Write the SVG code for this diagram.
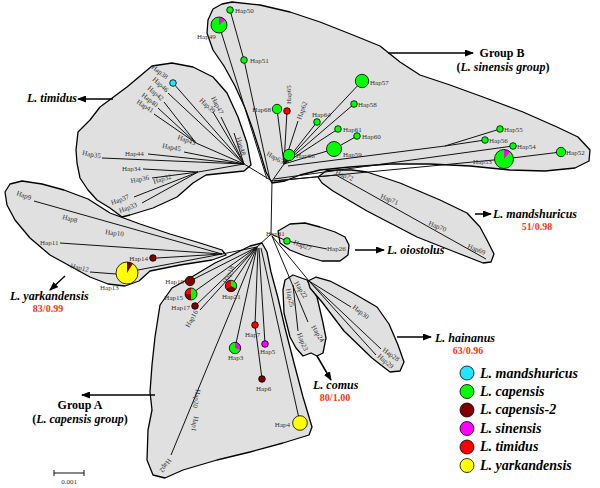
<svg xmlns="http://www.w3.org/2000/svg" width="600" height="488" viewBox="0 0 600 488">
<style>
.cloud{fill:#e0e0e0;stroke:#000;stroke-width:1.3;stroke-linejoin:round}
.ln{stroke:#111;stroke-width:1;fill:none}
.lb{font-family:"Liberation Serif",serif;font-size:7px;fill:#333}
.sp{font-family:"Liberation Serif",serif;font-size:12px;font-weight:bold;font-style:italic;fill:#000}
.grp{font-family:"Liberation Serif",serif;font-size:12px;font-weight:bold;fill:#000}
.sup{font-family:"Liberation Serif",serif;font-size:10px;font-weight:bold;fill:#ff3311}
.leg{font-family:"Liberation Serif",serif;font-size:14px;font-weight:bold;font-style:italic;fill:#000}
.arr{stroke:#000;stroke-width:1.5;fill:none;marker-end:url(#ah)}
.nd{stroke:#000;stroke-width:0.8}
.ol{fill:none;stroke:#000;stroke-width:0.8}
.g{fill:#00ff00}.c{fill:#22e5ff}.b{fill:#800000}.m{fill:#ff00ff}.r{fill:#ff0000}.y{fill:#ffff00}
</style>
<defs>
<marker id="ah" markerUnits="userSpaceOnUse" markerWidth="9" markerHeight="7" refX="8" refY="3.5" orient="auto">
<path d="M0,0 L9,3.5 L0,7 Z" fill="#000"/>
</marker>
</defs>

<g id="clusters">
<path class="cloud" d="M272,183 L266,172 L260,152 L253,130 L245,108 L235,86 L224,66 L213,50 L207,33 L208,20 L213,9 L222,4 L232,2 L260,5 L290,12 L320,22 L353,35 L380,46 L400,62 L420,75 L450,85 L483,97 L523,112 L557,127 L578,137 L590,150 L589,161 L575,168 L545,171 L510,170 L470,166 L430,164 L390,164 L350,167 L320,170 L300,175 L285,181 Z"/>
<path class="cloud" d="M152,66 L172,63 L193,67 L213,77 L227,93 L238,117 L247,143 L251,165 L244,171 L225,173 L206,175 L193,183 L177,197 L153,208 L130,215 L122,217 L110,208 L97,200 L88,190 L80,178 L77,163 L76,150 L78,132 L90,120 L100,107 L127,87 Z"/>
<path class="cloud" d="M5,192 L10,184 L22,181 L42,184 L64,190 L88,199 L110,213 L140,224 L170,234 L200,243 L222,250 L226,255 L212,260 L180,265 L150,271 L139,281 L125,286 L108,284 L90,277 L70,266 L50,255 L30,238 L15,220 L7,205 Z"/>
<path class="cloud" d="M230,256 L250,246 L262,243 L267,252 L271,272 L278,298 L285,328 L294,363 L303,397 L312,427 L309,435 L283,443 L250,452 L217,460 L183,470 L165,478 L153,475 L147,460 L148,430 L152,410 L150,392 L152,365 L155,337 L160,305 L172,288 L190,278 L215,263 Z"/>
<path class="cloud" d="M278,231 L290,224 L305,223 L320,227 L335,232 L345,237 L349,245 L348,255 L340,261 L322,261 L305,256 L290,250 L280,243 Z"/>
<path class="cloud" d="M283,290 L285,280 L293,275 L307,280 L317,297 L323,323 L326,338 L323,353 L317,356 L311,353 L303,356 L296,348 L290,337 L284,313 Z"/>
<path class="cloud" d="M308,281 L316,277 L330,281 L353,293 L377,307 L389,324 L398,345 L404,362 L400,371 L390,372 L372,358 L344,331 L322,302 L310,288 Z"/>
<path class="cloud" d="M318,177 L326,171 L337,170 L352,170 L367,172 L400,183 L440,200 L467,213 L480,227 L488,242 L494,254 L491,262 L483,263 L460,254 L417,237 L367,211 L333,191 L322,183 Z"/>
</g>

<g id="connectors">
<path class="ln" d="M272,181 L284,164 M272,181 L244,164 M272,181 L271,234 M271,234 L257,247 M257,247 L222,254 M244,164 L198,172 M244,164 L196,143"/>
<path class="ln" d="M230,10 L244,60 L270,180 M219,25 L267,179"/>
<path class="ln" d="M284,164 L277,109 M284,164 L287,111 M284,164 L298,121 M284,164 L317,122 M284,164 L338,129 M284,164 L354,104 M284,164 L362,81 M284,164 L334,149 L357,136 M284,164 L289,155"/>
<path class="ln" d="M288,166 L445,146 L500,129 M445,146 L485,140 M274,179 L513,146 M274,181 L504,159 L561,152"/>
<path class="ln" d="M272,181 L336,175 L486,259"/>
<path class="ln" d="M244,164 L173,83 M244,164 L168,93 M196,143 L164,102 M196,143 L158,108 M196,143 L154,114 M244,164 L213,112 M244,164 L221,117 M244,164 L234,133 M244,164 L184,152 M244,164 L148,154 M244,164 L102,158"/>
<path class="ln" d="M198,172 L143,169 M198,172 L152,178 M198,172 L134,197 M198,172 L142,203"/>
<path class="ln" d="M222,254 L34,201 M222,254 L60,243 M222,254 L157,258 M222,254 L138,270 M116,274 L90,272"/>
<path class="ln" d="M257,247 L190,281 M257,247 L191,294 M257,247 L195,306 M257,247 L200,310 M257,247 L231,286 M257,247 L235,348 M257,247 L171,455 M258,248 L255,325 L262,379 M259,248 L265,344 M261,248 L300,423"/>
<path class="ln" d="M271,234 L287,241 L327,249 M272,236 L308,322 M293,285 L298,331 M272,236 L309,281 L351,307 M309,281 L381,349 M309,281 L376,355"/>
</g>

<g id="arrows">
<path class="arr" d="M388,53 L473,53"/>
<path class="arr" d="M113,99 L78,99"/>
<path class="arr" d="M475,214 L491,214"/>
<path class="arr" d="M355,250 L384,250"/>
<path class="arr" d="M397,337 L431,337"/>
<path class="arr" d="M317,356 L331,380"/>
<path class="arr" d="M65,276 L50,290"/>
<path class="arr" d="M155,395 L82,395"/>
</g>

<g id="Hap50"><circle class="nd g" cx="230" cy="10" r="3.3"/><text class="lb" x="235" y="13">Hap50</text></g>
<g id="Hap49"><circle class="g" cx="219" cy="25" r="8"/><path class="m" d="M219,25 L219,17 A8,8 0 0 1 225.1,19.9 Z"/><circle class="ol" cx="219" cy="25" r="8"/><text class="lb" x="197" y="39">Hap49</text></g>
<g id="Hap51"><circle class="nd g" cx="244" cy="60" r="3.3"/><text class="lb" x="250" y="63">Hap51</text></g>
<g id="Hap68"><circle class="nd g" cx="277" cy="109" r="4.7"/><text class="lb" x="271" y="112" text-anchor="end">Hap68</text></g>
<g id="Hap65"><circle class="nd r" cx="287" cy="111" r="3.3"/><text class="lb" transform="translate(291,104) rotate(-90)">Hap65</text></g>
<g id="Hap62"><text class="lb" transform="translate(301,120) rotate(-70)">Hap62</text></g>
<g id="Hap64"><circle class="nd g" cx="317" cy="122" r="3.3"/><text class="lb" x="312" y="117">Hap64</text></g>
<g id="Hap61"><circle class="nd g" cx="338" cy="129" r="3.3"/><text class="lb" x="343" y="132">Hap61</text></g>
<g id="Hap60"><circle class="nd g" cx="357" cy="136" r="3.3"/><text class="lb" x="362" y="139">Hap60</text></g>
<g id="Hap59"><circle class="nd g" cx="334" cy="149" r="7.5"/><text class="lb" x="343" y="157">Hap59</text></g>
<g id="Hap58"><circle class="nd g" cx="354" cy="104" r="3.3"/><text class="lb" x="358" y="107">Hap58</text></g>
<g id="Hap57"><circle class="nd g" cx="362" cy="81" r="6.7"/><text class="lb" x="370" y="85">Hap57</text></g>
<g id="Hap66"><circle class="nd g" cx="289" cy="155" r="5.7"/><text class="lb" x="296" y="158">Hap66</text></g>
<g id="Hap63"><text class="lb" transform="translate(266,155) rotate(30)">Hap63</text></g>
<g id="Hap55"><circle class="nd g" cx="500" cy="129" r="3.3"/><text class="lb" x="504" y="132">Hap55</text></g>
<g id="Hap56"><circle class="nd g" cx="485" cy="140" r="3.3"/><text class="lb" x="489" y="143">Hap56</text></g>
<g id="Hap54"><circle class="nd g" cx="513" cy="146" r="3.3"/><text class="lb" x="517" y="149">Hap54</text></g>
<g id="Hap53"><circle class="g" cx="504" cy="159" r="9.5"/><path class="m" d="M504,159 L504,149.5 A9.5,9.5 0 0 1 510.1,151.7 Z"/><circle class="ol" cx="504" cy="159" r="9.5"/><text class="lb" x="473" y="164">Hap53</text></g>
<g id="Hap52"><circle class="nd g" cx="561" cy="152" r="4.7"/><text class="lb" x="566" y="155">Hap52</text></g>

<g id="Hap72"><text class="lb" transform="translate(335,174) rotate(22)">Hap72</text></g>
<g id="Hap71"><text class="lb" transform="translate(380,198) rotate(22)">Hap71</text></g>
<g id="Hap70"><text class="lb" transform="translate(428,225) rotate(22)">Hap70</text></g>
<g id="Hap69"><text class="lb" transform="translate(467,248) rotate(22)">Hap69</text></g>

<g id="Hap38"><circle class="nd c" cx="173" cy="83" r="3.3"/><text class="lb" transform="translate(151,68) rotate(38)">Hap38</text></g>
<g id="Hap46"><text class="lb" transform="translate(152,80) rotate(42)">Hap46</text></g>
<g id="Hap42"><text class="lb" transform="translate(147,89) rotate(40)">Hap42</text></g>
<g id="Hap40"><text class="lb" transform="translate(141,96) rotate(38)">Hap40</text></g>
<g id="Hap41"><text class="lb" transform="translate(136,103) rotate(33)">Hap41</text></g>
<g id="Hap39"><text class="lb" transform="translate(199,101) rotate(42)">Hap39</text></g>
<g id="Hap47"><text class="lb" transform="translate(211,98) rotate(62)">Hap47</text></g>
<g id="Hap48"><text class="lb" transform="translate(236,138) rotate(72)">Hap48</text></g>
<g id="Hap43"><text class="lb" transform="translate(177,139) rotate(20)">Hap43</text></g>
<g id="Hap45"><text class="lb" transform="translate(162,148) rotate(10)">Hap45</text></g>
<g id="Hap44"><text class="lb" x="125" y="156">Hap44</text></g>
<g id="Hap35"><text class="lb" transform="translate(82,155) rotate(10)">Hap35</text></g>
<g id="Hap34"><text class="lb" x="122" y="171">Hap34</text></g>
<g id="Hap36"><text class="lb" transform="translate(131,183) rotate(-10)">Hap36</text></g>
<g id="Hap32"><text class="lb" transform="translate(154,184) rotate(-17)">Hap32</text></g>
<g id="Hap37"><text class="lb" transform="translate(112,205) rotate(-20)">Hap37</text></g>
<g id="Hap33"><text class="lb" transform="translate(120,213) rotate(-20)">Hap33</text></g>

<g id="Hap9"><text class="lb" transform="translate(16,195) rotate(20)">Hap9</text></g>
<g id="Hap8"><text class="lb" transform="translate(62,219) rotate(15)">Hap8</text></g>
<g id="Hap10"><text class="lb" transform="translate(105,234) rotate(8)">Hap10</text></g>
<g id="Hap11"><text class="lb" x="40" y="245">Hap11</text></g>
<g id="Hap14"><circle class="nd b" cx="153" cy="258" r="3.3"/><text class="lb" x="148" y="261" text-anchor="end">Hap14</text></g>
<g id="Hap13"><circle class="y" cx="127" cy="273" r="11"/><path class="b" d="M127,273 L127,262 A11,11 0 0 1 132.8,263.7 Z"/><circle class="ol" cx="127" cy="273" r="11"/><text class="lb" x="100" y="290">Hap13</text></g>
<g id="Hap12"><text class="lb" transform="translate(70,268) rotate(12)">Hap12</text></g>

<g id="Hap19"><circle class="nd b" cx="190" cy="281" r="4.7"/><text class="lb" x="184" y="284" text-anchor="end">Hap19</text></g>
<g id="Hap15"><circle class="g" cx="191" cy="294" r="6"/><path class="r" d="M191,294 L191,288 A6,6 0 0 0 185,294 Z"/><path class="b" d="M191,294 L185,294 A6,6 0 0 0 191,300 Z"/><circle class="ol" cx="191" cy="294" r="6"/><text class="lb" x="183" y="300" text-anchor="end">Hap15</text></g>
<g id="Hap17"><circle class="nd b" cx="195" cy="306" r="3.3"/><text class="lb" x="190" y="310" text-anchor="end">Hap17</text></g>
<g id="Hap16"><text class="lb" transform="translate(189,328) rotate(-60)">Hap16</text></g>
<g id="Hap18"><text class="lb" transform="translate(227,284) rotate(-66)">Hap18</text></g>
<g id="Hap21"><circle class="g" cx="231" cy="286" r="5.7"/><path class="b" d="M231,286 L235.94,288.85 A5.7,5.7 0 0 1 226.06,288.85 Z"/><path class="r" d="M231,286 L226.06,288.85 A5.7,5.7 0 0 1 231,280.3 Z"/><circle class="ol" cx="231" cy="286" r="5.7"/><text class="lb" x="222" y="299">Hap21</text></g>
<g id="Hap3"><circle class="g" cx="235" cy="348" r="5.7"/><path class="m" d="M235,348 L235,342.3 A5.7,5.7 0 0 1 240.36,349.95 Z"/><circle class="ol" cx="235" cy="348" r="5.7"/><text class="lb" x="228" y="360">Hap3</text></g>
<g id="Hap7"><circle class="nd r" cx="255" cy="325" r="3.3"/><text class="lb" x="245" y="337">Hap7</text></g>
<g id="Hap5"><circle class="nd m" cx="265" cy="344" r="3.3"/><text class="lb" x="260" y="354">Hap5</text></g>
<g id="Hap6"><circle class="nd b" cx="262" cy="379" r="3.3"/><text class="lb" x="256" y="391">Hap6</text></g>
<g id="Hap4"><circle class="nd y" cx="300" cy="423" r="7.3"/><text class="lb" x="290" y="427" text-anchor="end">Hap4</text></g>
<g id="Hap20"><text class="lb" transform="translate(196,389) rotate(100)">Hap20</text></g>
<g id="Hap1"><text class="lb" transform="translate(194,416) rotate(100)">Hap1</text></g>
<g id="Hap2"><text class="lb" transform="translate(168,458) rotate(125)">Hap2</text></g>

<g id="Hap31"><text class="lb" x="266" y="236">Hap31</text></g>
<g id="Hap27"><circle class="nd g" cx="287" cy="241" r="3.3"/><text class="lb" transform="translate(293,244) rotate(22)">Hap27</text></g>
<g id="Hap26"><text class="lb" x="327" y="251">Hap26</text></g>
<g id="Hap22"><text class="lb" transform="translate(294,283) rotate(58)">Hap22</text></g>
<g id="Hap25"><text class="lb" transform="translate(286,289) rotate(78)">Hap25</text></g>
<g id="Hap24"><text class="lb" transform="translate(311,327) rotate(58)">Hap24</text></g>
<g id="Hap23"><text class="lb" transform="translate(297,334) rotate(68)">Hap23</text></g>
<g id="Hap30"><text class="lb" transform="translate(352,308) rotate(38)">Hap30</text></g>
<g id="Hap28"><text class="lb" transform="translate(382,351) rotate(35)">Hap28</text></g>
<g id="Hap29"><text class="lb" transform="translate(377,357) rotate(40)">Hap29</text></g>

<g id="titles">
<text class="grp" x="502" y="57" text-anchor="middle">Group B</text>
<text class="grp" x="503" y="71" text-anchor="middle">(<tspan font-style="italic">L. sinensis group</tspan>)</text>
<text class="sp" x="27" y="102">L. timidus</text>
<text class="sp" x="493" y="218">L. mandshuricus</text>
<text class="sup" x="537" y="230" text-anchor="middle">51/0.98</text>
<text class="sp" x="387" y="254">L. oiostolus</text>
<text class="sp" x="435" y="342">L. hainanus</text>
<text class="sup" x="468" y="354" text-anchor="middle">63/0.96</text>
<text class="sp" x="313" y="389">L. comus</text>
<text class="sup" x="335" y="401" text-anchor="middle">80/1.00</text>
<text class="sp" x="10" y="300">L. yarkandensis</text>
<text class="sup" x="48" y="312" text-anchor="middle">83/0.99</text>
<text class="grp" x="80" y="409" text-anchor="middle">Group A</text>
<text class="grp" x="80" y="423" text-anchor="middle">(<tspan font-style="italic">L. capensis group</tspan>)</text>
</g>

<g id="legend">
<circle class="nd c" cx="467" cy="373" r="7"/><text class="leg" x="480" y="378">L. mandshuricus</text>
<circle class="nd g" cx="467" cy="391.5" r="7"/><text class="leg" x="480" y="396">L. capensis</text>
<circle class="nd b" cx="467" cy="410" r="7"/><text class="leg" x="480" y="414">L. capensis-2</text>
<circle class="nd m" cx="467" cy="428.5" r="7"/><text class="leg" x="480" y="433">L. sinensis</text>
<circle class="nd r" cx="467" cy="447" r="7"/><text class="leg" x="480" y="451">L. timidus</text>
<circle class="nd y" cx="467" cy="465.5" r="7"/><text class="leg" x="480" y="470">L. yarkandensis</text>
</g>

<g id="scale">
<path class="ln" d="M54,473 L84,473 M54,470 L54,476 M84,470 L84,476"/>
<text class="lb" x="69" y="484" text-anchor="middle" font-size="6">0.001</text>
</g>
</svg>
